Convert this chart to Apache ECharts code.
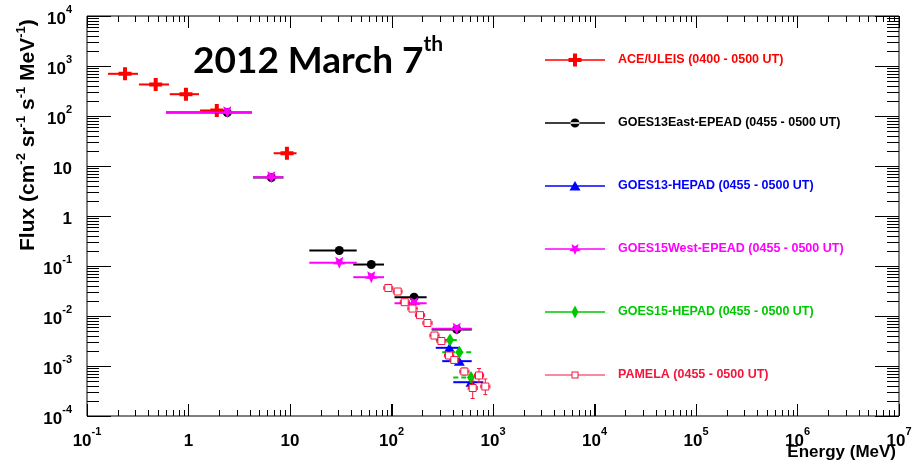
<!DOCTYPE html>
<html><head><meta charset="utf-8">
<script src="https://cdn.jsdelivr.net/npm/echarts@6/dist/echarts.min.js"></script>
<style>html,body{margin:0;padding:0;background:#fff}#c{width:918px;height:462px}</style>
</head><body><div id="c"></div>
<script>
// ---------------- data (Energy in MeV, Flux) ----------------
const aceE   = [0.237, 0.475, 0.944, 1.90, 9.33];
const aceElo = [0.161, 0.325, 0.653, 1.30, 6.9];
const aceEhi = [0.318, 0.643, 1.27, 2.56, 11.6];
const aceF   = [698, 427, 273, 129, 18.0];

const g13eE   = [2.41, 6.55, 30.6, 63.2, 167, 439];
const g13eElo = [0.60, 4.32, 15.5, 42, 107, 249];
const g13eEhi = [4.2, 8.6, 45.4, 84.4, 222, 617];
const g13eF   = [117, 5.9, 0.204, 0.107, 0.0238, 0.0054];

const g13hE   = [372, 466, 607];
const g13hElo = [273, 316, 406];
const g13hEhi = [473, 617, 802];
const g13hF   = [0.00231, 0.00125, 0.000474];

const g15wE   = [2.41, 6.55, 30.6, 63.2, 167, 439];
const g15wElo = [0.60, 4.32, 15.5, 42, 107, 249];
const g15wEhi = [4.2, 8.6, 45.4, 84.4, 222, 617];
const g15wF   = [119, 5.97, 0.116, 0.0597, 0.018, 0.00555];

const g15hE   = [377, 466, 607];
const g15hElo = [273, 316, 406];
const g15hEhi = [473, 617, 802];
const g15hF   = [0.00331, 0.00189, 0.00059];

const pamE   = [93, 115, 135, 161, 191, 226, 265, 310, 369, 416, 522, 631, 728, 840];
const pamElo = [84, 104, 122, 145, 172, 204, 239, 280, 333, 375, 471, 569, 657, 758];
const pamEhi = [103, 127, 150, 179, 212, 251, 294, 344, 410, 462, 580, 700, 808, 932];
const pamF   = [0.0363, 0.0309, 0.0189, 0.0141, 0.0104, 0.00724, 0.00407, 0.00316, 0.00162, 0.00132, 0.000776, 0.000363, 0.000646, 0.000389];
const pamFlo = [0.033, 0.028, 0.017, 0.0128, 0.0094, 0.0065, 0.0036, 0.0028, 0.00142, 0.00112, 0.00066, 0.000224, 0.000478, 0.000268];
const pamFhi = [0.040, 0.034, 0.021, 0.0155, 0.0115, 0.0080, 0.0046, 0.0036, 0.00185, 0.00155, 0.00091, 0.00050, 0.00089, 0.00055];

const seriesNames = [
  'ACE/ULEIS (0400 - 0500 UT)',
  'GOES13East-EPEAD (0455 - 0500 UT)',
  'GOES13-HEPAD (0455 - 0500 UT)',
  'GOES15West-EPEAD (0455 - 0500 UT)',
  'GOES15-HEPAD (0455 - 0500 UT)',
  'PAMELA (0455 - 0500 UT)'
];

// tick labels: [base, exponent]
const xTickLabels = [['10','-1'],['1',''],['10',''],['10','2'],['10','3'],['10','4'],['10','5'],['10','6'],['10','7']];
const yTickLabels = [['10','-4'],['10','-3'],['10','-2'],['10','-1'],['1',''],['10',''],['10','2'],['10','3'],['10','4']];
const xDecadeExps = [-1,0,1,2,3,4,5,6,7];
const yDecadeExps = [-4,-3,-2,-1,0,1,2,3,4];
const minorMultipliers = [2,3,4,5,6,7,8,9];

const titleMain = '2012 March 7';
const titleSup = 'th';
const xTitle = 'Energy (MeV)';
const yTitleParts = [['Flux (cm','-2'],[' sr','-1'],[' s','-1'],[' MeV','-1'],[')','']];

// ---------------- styling ----------------
const COL = ['#ff0000', '#000000', '#0000ff', '#ff00ff', '#00c800', '#f5143c'];
const FONT = 'Liberation Sans, Arial, sans-serif';

const crossPath = 'path://M4.5,0 H8.5 V4.5 H13 V8.5 H8.5 V13 H4.5 V8.5 H0 V4.5 H4.5 Z';
const starPath = 'path://M10,20 L7.35,13.64 L0.49,13.09 L5.72,8.61 L4.12,1.91 L10,5.5 L15.88,1.91 L14.28,8.61 L19.51,13.09 L12.65,13.64 Z';

const EXT = 'M0,0 M68,14 ';
const LINE = 'M0,6.25 H60 V7.75 H0 Z ';
const legendIcons = [
  'path://' + EXT + LINE + 'M28,0.5 H32 V5 H36.5 V9 H32 V13.5 H28 V9 H23.5 V5 H28 Z',
  'path://' + EXT + LINE + 'M25.5,7 A4.5,4.5 0 1,0 34.5,7 A4.5,4.5 0 1,0 25.5,7 Z',
  'path://' + EXT + LINE + 'M30,2 L35.5,11.5 L24.5,11.5 Z',
  'path://' + EXT + LINE + 'M30,13 L28.4,9.2 L24.3,8.9 L27.4,6.2 L26.5,2.1 L30,4.3 L33.5,2.1 L32.6,6.2 L35.7,8.9 L31.6,9.2 Z',
  'path://' + EXT + LINE + 'M30,0.5 L33.5,7 L30,13.5 L26.5,7 Z',
  'path://' + EXT + 'M0,6.5 H26.5 V7.5 H0 Z M33.5,6.5 H60 V7.5 H33.5 Z M26.5,3.5 H33.5 V10.5 H26.5 Z M27.5,4.5 V9.5 H32.5 V4.5 Z'
];

function supRich(size, supSize, lh) {
  return {
    b: {fontSize: size, fontWeight: 'bold', fontFamily: FONT, color: '#000', lineHeight: lh, verticalAlign: 'bottom'},
    s: {fontSize: supSize, fontWeight: 'bold', fontFamily: FONT, color: '#000', lineHeight: supSize, verticalAlign: 'top'}
  };
}
function fmtTick(pair) {
  if (!pair) return '';
  return pair[1] ? '{b|' + pair[0] + '}{s|' + pair[1] + '}' : '{b|' + pair[0] + '}';
}

function rows(E, F, lo, hi, flo, fhi) {
  return E.map((e, i) => [e, F[i], lo[i], hi[i], flo ? flo[i] : F[i], fhi ? fhi[i] : F[i]]);
}

// frame tick marks (major + minor on all four sides), placed through the axis scales
function tickChildren(params, api) {
  const cs = params.coordSys;
  const L = Math.round(cs.x), T = Math.round(cs.y), R = Math.round(cs.x + cs.width), B = Math.round(cs.y + cs.height);
  const ch = [];
  const bar = (x, y, w, h) => ch.push({type: 'rect', shape: {x: x, y: y, width: w, height: h}, style: {fill: '#000'}});
  const lastX = xDecadeExps[xDecadeExps.length - 1], lastY = yDecadeExps[yDecadeExps.length - 1];
  xDecadeExps.forEach(k => {
    const px0 = Math.round(api.coord([Math.pow(10, k), 1])[0]);
    bar(px0, B - 12, 1, 12); bar(px0, T, 1, 12);
    if (k < lastX) minorMultipliers.forEach(m => {
      const px = Math.round(api.coord([m * Math.pow(10, k), 1])[0]);
      bar(px, B - 6, 1, 6); bar(px, T, 1, 6);
    });
  });
  yDecadeExps.forEach(k => {
    const py0 = Math.round(api.coord([1, Math.pow(10, k)])[1]);
    bar(L, py0, 24, 1); bar(R - 24, py0, 24, 1);
    if (k < lastY) minorMultipliers.forEach(m => {
      const py = Math.round(api.coord([1, m * Math.pow(10, k)])[1]);
      bar(L, py, 12, 1); bar(R - 12, py, 12, 1);
    });
  });
  return ch;
}

function errRender(color, width, dash, caps, withTicks) {
  return function (params, api) {
    const f = api.value(1), lo = api.value(2), hi = api.value(3), flo = api.value(4), fhi = api.value(5), e = api.value(0);
    const p1 = api.coord([lo, f]), p2 = api.coord([hi, f]);
    let ch = [{type: 'line', shape: {x1: p1[0], y1: p1[1], x2: p2[0], y2: p2[1]},
      style: {stroke: color, lineWidth: width, lineDash: dash || null}}];
    if (caps) {
      const q1 = api.coord([e, flo]), q2 = api.coord([e, fhi]);
      const st = () => ({stroke: color, lineWidth: 1});
      ch.push({type: 'line', shape: {x1: q1[0], y1: q1[1], x2: q2[0], y2: q2[1]}, style: st()});
      ch.push({type: 'line', shape: {x1: p1[0], y1: p1[1] - 2, x2: p1[0], y2: p1[1] + 2}, style: st()});
      ch.push({type: 'line', shape: {x1: p2[0], y1: p2[1] - 2, x2: p2[0], y2: p2[1] + 2}, style: st()});
      ch.push({type: 'line', shape: {x1: q1[0] - 2, y1: q1[1], x2: q1[0] + 2, y2: q1[1]}, style: st()});
      ch.push({type: 'line', shape: {x1: q2[0] - 2, y1: q2[1], x2: q2[0] + 2, y2: q2[1]}, style: st()});
    }
    if (withTicks && params.dataIndex === 0) ch = ch.concat(tickChildren(params, api));
    return {type: 'group', children: ch};
  };
}

const sets = [
  {E: aceE, F: aceF, lo: aceElo, hi: aceEhi, sym: crossPath, size: 13, w: 2},
  {E: g13eE, F: g13eF, lo: g13eElo, hi: g13eEhi, sym: 'circle', size: 9, w: 2},
  {E: g13hE, F: g13hF, lo: g13hElo, hi: g13hEhi, sym: 'triangle', size: [11, 9], w: 2},
  {E: g15wE, F: g15wF, lo: g15wElo, hi: g15wEhi, sym: starPath, size: [13, 12], w: 2},
  {E: g15hE, F: g15hF, lo: g15hElo, hi: g15hEhi, sym: 'diamond', size: [8, 13], w: 2, dash: [5, 3]},
  {E: pamE, F: pamF, lo: pamElo, hi: pamEhi, flo: pamFlo, fhi: pamFhi, sym: 'rect', size: 7, w: 1, caps: true, hollow: true}
];

const series = [];
sets.forEach((s, i) => {
  series.push({
    type: 'custom', name: seriesNames[i], z: 2 + i * 2, silent: true,
    data: rows(s.E, s.F, s.lo, s.hi, s.flo, s.fhi),
    encode: {x: 0, y: 1},
    renderItem: errRender(COL[i], s.w, s.dash, s.caps, i === 0)
  });
  series.push({
    type: 'scatter', name: seriesNames[i], z: 3 + i * 2,
    data: s.E.map((e, j) => [e, s.F[j]]),
    symbol: s.sym, symbolSize: s.size,
    itemStyle: s.hollow ? {color: '#ffffff', borderColor: COL[i], borderWidth: 1, opacity: 1}
                        : {color: COL[i], opacity: 1},
    emphasis: {disabled: true}
  });
});

const xMin = Math.pow(10, xDecadeExps[0]), xMax = Math.pow(10, xDecadeExps[xDecadeExps.length - 1]);
const yMin = Math.pow(10, yDecadeExps[0]), yMax = Math.pow(10, yDecadeExps[yDecadeExps.length - 1]);

const chart = echarts.init(document.getElementById('c'), null, {renderer: 'canvas'});
chart.setOption({
  animation: false,
  backgroundColor: '#fff',
  title: {
    text: '{a|' + titleMain + '}{s|' + titleSup + '}',
    left: 193, top: 34, padding: 0,
    textStyle: {
      rich: {
        a: {fontFamily: 'Lato, sans-serif', fontWeight: 'bold', fontSize: 37, lineHeight: 46, verticalAlign: 'bottom', color: '#000'},
        s: {fontFamily: 'Lato, sans-serif', fontWeight: 'bold', fontSize: 21, lineHeight: 21, verticalAlign: 'top', color: '#000'}
      }
    }
  },
  grid: {left: 87, top: 16, width: 812, height: 400, show: true, borderColor: '#000', borderWidth: 1},
  legend: {
    orient: 'vertical', left: 545, top: 53, padding: 0, itemWidth: 68, itemHeight: 14, itemGap: 49,
    selectedMode: false,
    data: seriesNames.map((n, i) => ({
      name: n, icon: legendIcons[i],
      itemStyle: {color: COL[i], borderWidth: 0, opacity: 1},
      textStyle: {color: COL[i], fontFamily: FONT, fontWeight: 'bold', fontSize: 12.5}
    }))
  },
  xAxis: [
    {type: 'log', min: xMin, max: xMax, splitNumber: 8, position: 'bottom',
     axisLine: {show: false}, splitLine: {show: false},
     axisTick: {show: true, inside: true, length: 12, lineStyle: {color: '#000', width: 1}},
     axisLabel: {margin: 10, formatter: (v, idx) => fmtTick(xTickLabels[idx]), rich: supRich(17, 11, 24)}}
  ],
  yAxis: [
    {type: 'log', min: yMin, max: yMax, splitNumber: 8, position: 'left',
     axisLine: {show: false}, splitLine: {show: false},
     axisTick: {show: true, inside: true, length: 24, lineStyle: {color: '#000', width: 1}},
     axisLabel: {margin: 15, formatter: (v, idx) => fmtTick(yTickLabels[idx]), rich: supRich(17, 11, 24)}}
  ],
  graphic: [
    {type: 'text', x: 896, y: 452, silent: true,
     style: {text: xTitle, fill: '#000', font: 'bold 17px ' + FONT, align: 'right', verticalAlign: 'middle', textAlign: 'right', textVerticalAlign: 'middle'}},
    {type: 'text', x: 27, y: 251, rotation: Math.PI / 2, silent: true,
     style: {
       text: yTitleParts.map(p => '{b|' + p[0] + '}' + (p[1] ? '{s|' + p[1] + '}' : '')).join(''),
       rich: supRich(21, 13, 24),
       align: 'left', verticalAlign: 'middle', textAlign: 'left', textVerticalAlign: 'middle'
     }}
  ],
  series: series
});
</script>
</body></html>
